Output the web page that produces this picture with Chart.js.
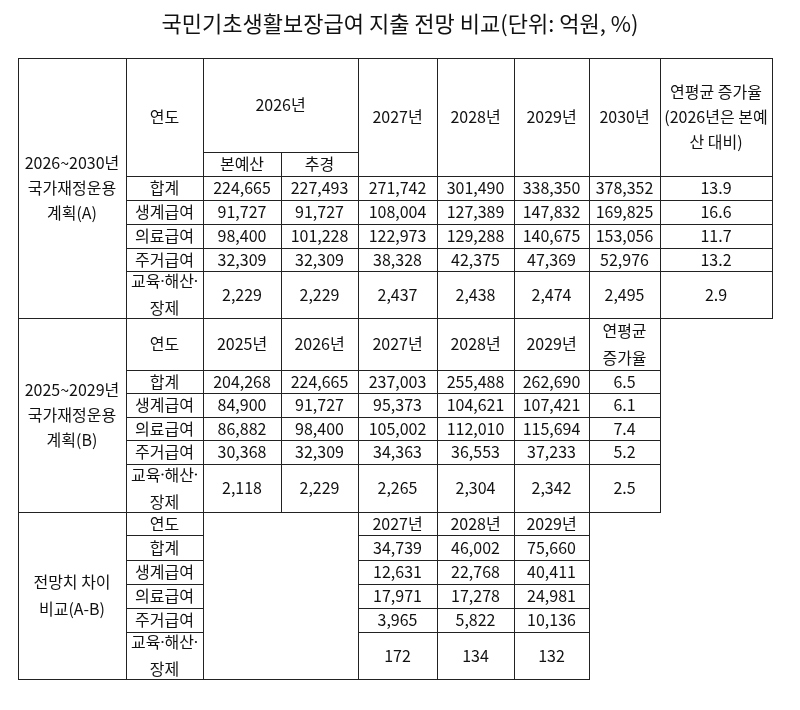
<!DOCTYPE html>
<html>
<head>
<meta charset="utf-8">
<script src="https://cdn.jsdelivr.net/npm/chart.js@4"></script>
<style>
  body { margin: 0; background: #fff; }
  #wrap { width: 800px; height: 710px; }
</style>
</head>
<body>
<div id="wrap"><canvas id="tbl" width="800" height="710"></canvas></div>
<script>
// 표 데이터
const title = '국민기초생활보장급여 지출 전망 비교(단위: 억원, %)';
const categories = ['합계', '생계급여', '의료급여', '주거급여', '교육·해산·\n장제'];

const yearsA = ['2027년', '2028년', '2029년', '2030년'];
const base2026A = ['224,665', '91,727', '98,400', '32,309', '2,229'];
const supp2026A = ['227,493', '91,727', '101,228', '32,309', '2,229'];
const y2027A = ['271,742', '108,004', '122,973', '38,328', '2,437'];
const y2028A = ['301,490', '127,389', '129,288', '42,375', '2,438'];
const y2029A = ['338,350', '147,832', '140,675', '47,369', '2,474'];
const y2030A = ['378,352', '169,825', '153,056', '52,976', '2,495'];
const growthA = ['13.9', '16.6', '11.7', '13.2', '2.9'];

const yearsB = ['2025년', '2026년', '2027년', '2028년', '2029년'];
const y2025B = ['204,268', '84,900', '86,882', '30,368', '2,118'];
const y2026B = ['224,665', '91,727', '98,400', '32,309', '2,229'];
const y2027B = ['237,003', '95,373', '105,002', '34,363', '2,265'];
const y2028B = ['255,488', '104,621', '112,010', '36,553', '2,304'];
const y2029B = ['262,690', '107,421', '115,694', '37,233', '2,342'];
const growthB = ['6.5', '6.1', '7.4', '5.2', '2.5'];

const yearsC = ['2027년', '2028년', '2029년'];
const y2027C = ['34,739', '12,631', '17,971', '3,965', '172'];
const y2028C = ['46,002', '22,768', '17,278', '5,822', '134'];
const y2029C = ['75,660', '40,411', '24,981', '10,136', '132'];

// 레이아웃 (격자선 위치)
const X = [18, 126, 203, 281, 358, 437, 514, 589, 660, 772];
const rowsA = [58, 152, 176, 200, 224, 248, 271, 318];
const rowsB = [318, 370, 393, 417, 440, 464, 512];
const rowsC = [512, 535, 560, 584, 608, 632, 679];

const cells = [];
function cell(c0, c1, y0, y1, text) { cells.push({x0: X[c0], x1: X[c1], y0, y1, text}); }

// A
cell(0, 1, rowsA[0], rowsA[7], '2026~2030년\n국가재정운용\n계획(A)');
cell(1, 2, rowsA[0], rowsA[2], '연도');
cell(2, 4, rowsA[0], rowsA[1], '2026년');
cell(2, 3, rowsA[1], rowsA[2], '본예산');
cell(3, 4, rowsA[1], rowsA[2], '추경');
yearsA.forEach((y, i) => cell(4 + i, 5 + i, rowsA[0], rowsA[2], y));
cell(8, 9, rowsA[0], rowsA[2], '연평균 증가율\n(2026년은 본예\n산 대비)');
const colsA = [base2026A, supp2026A, y2027A, y2028A, y2029A, y2030A, growthA];
categories.forEach((cat, r) => {
  cell(1, 2, rowsA[2 + r], rowsA[3 + r], cat);
  colsA.forEach((col, i) => cell(2 + i, 3 + i, rowsA[2 + r], rowsA[3 + r], col[r]));
});

// B
cell(0, 1, rowsB[0], rowsB[6], '2025~2029년\n국가재정운용\n계획(B)');
cell(1, 2, rowsB[0], rowsB[1], '연도');
yearsB.forEach((y, i) => cell(2 + i, 3 + i, rowsB[0], rowsB[1], y));
cell(7, 8, rowsB[0], rowsB[1], '연평균\n증가율');
const colsB = [y2025B, y2026B, y2027B, y2028B, y2029B, growthB];
categories.forEach((cat, r) => {
  cell(1, 2, rowsB[1 + r], rowsB[2 + r], cat);
  colsB.forEach((col, i) => cell(2 + i, 3 + i, rowsB[1 + r], rowsB[2 + r], col[r]));
});

// C
cell(0, 1, rowsC[0], rowsC[6], '전망치 차이\n비교(A-B)');
cell(1, 2, rowsC[0], rowsC[1], '연도');
cell(2, 4, rowsC[0], rowsC[6], '');
yearsC.forEach((y, i) => cell(4 + i, 5 + i, rowsC[0], rowsC[1], y));
const colsC = [y2027C, y2028C, y2029C];
categories.forEach((cat, r) => {
  cell(1, 2, rowsC[1 + r], rowsC[2 + r], cat);
  colsC.forEach((col, i) => cell(4 + i, 5 + i, rowsC[1 + r], rowsC[2 + r], col[r]));
});

const FONT = '"Noto Sans CJK KR", "Noto Sans", sans-serif';

const tablePlugin = {
  id: 'table',
  afterDraw(chart) {
    const ctx = chart.ctx;
    const sx = chart.scales.x, sy = chart.scales.y;
    const px = v => sx.getPixelForValue(v), py = v => sy.getPixelForValue(v);
    ctx.save();
    ctx.fillStyle = '#111';
    ctx.textAlign = 'center';
    ctx.textBaseline = 'middle';
    ctx.font = '22px ' + FONT;
    ctx.fillText(title, px(400), py(24));
    ctx.strokeStyle = '#222';
    ctx.lineWidth = 1;
    ctx.font = '16px ' + FONT;
    cells.forEach(c => {
      const x0 = px(c.x0), x1 = px(c.x1), y0 = py(c.y0), y1 = py(c.y1);
      ctx.strokeRect(Math.round(x0) + 0.5, Math.round(y0) + 0.5, Math.round(x1 - x0), Math.round(y1 - y0));
      // 가운뎃점 간격 줄이기
      const lines = c.text.split('\n').map(t => t.replace(/·/g, '\u00b7'));
      const lh = lines.length > 2 ? 25 : 27;
      const cy = (y0 + y1) / 2 - (lines.length - 1) * lh / 2;
      lines.forEach((t, i) => {
        if (t.includes('·')) {
          const parts = t.split('·');
          const w = parts.map(p => ctx.measureText(p).width);
          const dot = 4;
          const total = w.reduce((a, b) => a + b, 0) + dot * (parts.length - 1);
          let x = (x0 + x1) / 2 - total / 2;
          ctx.textAlign = 'left';
          parts.forEach((p, k) => {
            ctx.fillText(p, x, cy + i * lh);
            x += w[k];
            if (k < parts.length - 1) {
              ctx.beginPath();
              ctx.arc(x + dot / 2, cy + i * lh, 1.1, 0, Math.PI * 2);
              ctx.fill();
              x += dot;
            }
          });
          ctx.textAlign = 'center';
        } else {
          ctx.fillText(t, (x0 + x1) / 2, cy + i * lh);
        }
      });
    });
    ctx.restore();
  }
};

new Chart(document.getElementById('tbl'), {
  type: 'scatter',
  data: { datasets: [{ data: [] }] },
  options: {
    responsive: false,
    animation: false,
    layout: { padding: 0 },
    plugins: { legend: { display: false }, tooltip: { enabled: false } },
    scales: {
      x: { type: 'linear', min: 0, max: 800, display: false },
      y: { type: 'linear', min: 0, max: 710, reverse: true, display: false }
    }
  },
  plugins: [tablePlugin]
});
</script>
</body>
</html>
